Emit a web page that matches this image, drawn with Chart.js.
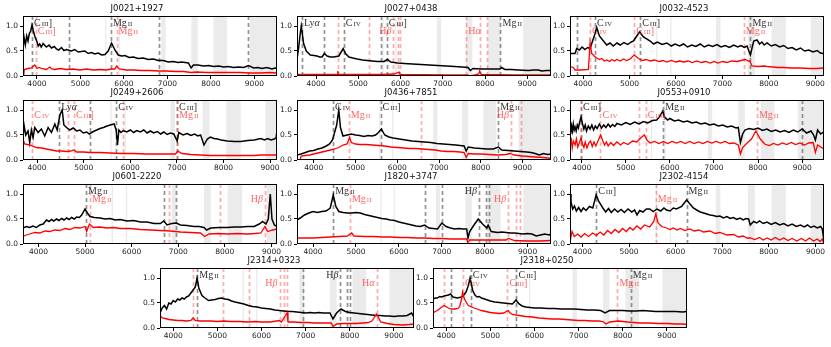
<!DOCTYPE html>
<html>
<head>
<meta charset="utf-8">
<script src="https://cdn.jsdelivr.net/npm/chart.js@4.4.1/dist/chart.umd.min.js"></script>
<style>
  body { margin: 0; background: #fff; }
  #fig { position: relative; width: 831px; height: 347px; overflow: hidden; background: #fff; }
  #fig canvas { position: absolute; }
</style>
</head>
<body>
<div id="fig"></div>
<script>
// shared axis ticks and telluric bands (observed wavelength, Angstrom)
const xTickValues = [4000, 5000, 6000, 7000, 8000, 9000];
const yTickValues = [0, 0.5, 1.0];
const telluricBands = [[5570, 5600], [5875, 5905], [6860, 6960], [7550, 7700], [8060, 8370], [8900, 9700]];

// ---- J0021+1927 ----
const j0021Black = [[3680,0.55],[3703,0.78],[3734,0.62],[3765,0.80],[3795,0.70],[3826,0.85],[3857,0.90],[3887,1.02],[3918,0.90],[3957,0.78],[4003,0.68],[4030,0.60],[4064,0.64],[4100,0.58],[4141,0.65],[4218,0.58],[4280,0.62],[4333,0.56],[4400,0.59],[4448,0.54],[4500,0.52],[4564,0.57],[4620,0.51],[4679,0.53],[4794,0.50],[4870,0.53],[4948,0.48],[5102,0.50],[5180,0.45],[5255,0.47],[5330,0.44],[5409,0.46],[5490,0.42],[5563,0.43],[5639,0.50],[5716,0.66],[5793,0.52],[5870,0.42],[5950,0.40],[6024,0.41],[6120,0.37],[6216,0.38],[6330,0.35],[6446,0.36],[6560,0.33],[6677,0.34],[6790,0.31],[6907,0.31],[7020,0.28],[7138,0.29],[7240,0.27],[7330,0.28],[7484,0.26],[7545,0.16],[7599,0.22],[7700,0.22],[7829,0.20],[7950,0.21],[8060,0.19],[8180,0.20],[8290,0.18],[8400,0.19],[8521,0.17],[8640,0.18],[8751,0.17],[8867,0.21],[8982,0.16],[9080,0.17],[9174,0.15],[9289,0.17],[9405,0.14],[9470,0.16],[9520,0.15]];
const j0021Red = [[3695,0.00],[3711,0.13],[3795,0.15],[3872,0.16],[3949,0.22],[4003,0.15],[4050,0.17],[4103,0.15],[4218,0.13],[4295,0.18],[4340,0.14],[4410,0.13],[4540,0.15],[4679,0.13],[4830,0.14],[4986,0.12],[5140,0.14],[5294,0.12],[5450,0.13],[5601,0.12],[5700,0.14],[5793,0.14],[5832,0.20],[5893,0.14],[6050,0.12],[6216,0.12],[6400,0.11],[6600,0.11],[6800,0.10],[6984,0.10],[7180,0.09],[7368,0.09],[7545,0.07],[7676,0.08],[7900,0.07],[8137,0.07],[8400,0.07],[8675,0.07],[8900,0.06],[9136,0.06],[9350,0.07],[9520,0.06]];
const j0021Gray = [3887, 4740, 5701, 6815, 8851];
const j0021RedLines = [3972, 5832];
const j0021Labels = [[3887,'CIII','g','l'],[3972,'CIII','r','l'],[5701,'MgII','g','l'],[5832,'MgII','r','l']];

// ---- J0027+0438 ----
const j0027Black = [[3548,0.32],[3587,0.55],[3627,0.85],[3651,1.00],[3675,0.85],[3706,0.65],[3770,0.50],[3865,0.42],[3950,0.41],[4024,0.40],[4090,0.38],[4143,0.38],[4198,0.45],[4262,0.40],[4340,0.38],[4421,0.38],[4480,0.39],[4540,0.40],[4595,0.48],[4643,0.55],[4698,0.45],[4778,0.38],[4870,0.36],[4976,0.34],[5100,0.32],[5214,0.31],[5330,0.30],[5452,0.29],[5611,0.29],[5690,0.33],[5770,0.28],[5930,0.26],[6087,0.25],[6280,0.24],[6484,0.23],[6680,0.22],[6881,0.21],[7080,0.20],[7278,0.19],[7450,0.18],[7595,0.17],[7651,0.11],[7714,0.15],[7913,0.14],[8151,0.14],[8349,0.14],[8389,0.17],[8468,0.13],[8620,0.13],[8786,0.12],[9024,0.11],[9150,0.12],[9262,0.12],[9341,0.10],[9450,0.11],[9563,0.11]];
const j0027Red = [[3548,0.03],[3944,0.03],[4500,0.03],[4516,0.10],[4532,0.03],[5532,0.03],[5849,0.04],[5968,0.08],[5992,0.03],[7119,0.02],[7595,0.02],[7635,0.00],[7754,0.02],[7849,0.04],[7873,0.10],[7913,0.03],[8706,0.02],[9563,0.02]];
const j0027Gray = [3667, 4198, 4659, 5548, 5675, 8365];
const j0027RedLines = [4516, 5254, 5833, 5929, 5984, 7556, 7873, 8056];
const j0027Labels = [[3667,'Lya','g','l'],[4659,'CIV','g','l'],[5675,'CIII','g','l'],[8365,'MgII','g','l'],[5833,'Hb','r','r'],[7556,'Ha','r','l']];

// ---- J0032-4523 ----
const j0032Black = [[3719,0.45],[3827,0.45],[3863,0.55],[3920,0.52],[3980,0.58],[4040,0.53],[4100,0.57],[4151,0.55],[4187,0.65],[4259,0.85],[4295,0.97],[4352,0.80],[4439,0.70],[4510,0.62],[4582,0.66],[4650,0.60],[4730,0.66],[4800,0.62],[4880,0.67],[4960,0.63],[5040,0.68],[5086,0.70],[5143,0.78],[5215,0.88],[5301,0.78],[5445,0.70],[5520,0.64],[5600,0.68],[5700,0.63],[5805,0.66],[5900,0.60],[5980,0.64],[6080,0.60],[6164,0.64],[6250,0.58],[6340,0.62],[6430,0.59],[6524,0.64],[6610,0.58],[6700,0.62],[6790,0.59],[6883,0.63],[6970,0.58],[7060,0.61],[7150,0.57],[7243,0.62],[7330,0.58],[7400,0.61],[7470,0.57],[7530,0.60],[7602,0.42],[7674,0.70],[7746,0.72],[7800,0.64],[7850,0.68],[7900,0.62],[7962,0.66],[8050,0.60],[8140,0.63],[8230,0.58],[8321,0.61],[8410,0.55],[8500,0.57],[8590,0.52],[8681,0.56],[8770,0.50],[8860,0.52],[8950,0.48],[9040,0.51],[9110,0.46],[9170,0.45]];
const j0032Red = [[3719,0.19],[3791,0.17],[3827,0.12],[3950,0.12],[4115,0.13],[4136,0.45],[4151,0.67],[4187,0.45],[4240,0.40],[4295,0.36],[4350,0.33],[4400,0.35],[4460,0.30],[4511,0.32],[4570,0.29],[4620,0.33],[4680,0.30],[4726,0.33],[4800,0.30],[4870,0.34],[4940,0.31],[5014,0.34],[5100,0.42],[5194,0.35],[5280,0.31],[5360,0.33],[5445,0.30],[5540,0.32],[5640,0.29],[5720,0.31],[5800,0.28],[5900,0.31],[6000,0.28],[6080,0.30],[6164,0.28],[6260,0.30],[6350,0.27],[6450,0.30],[6550,0.27],[6640,0.29],[6740,0.26],[6820,0.29],[6900,0.26],[7000,0.29],[7100,0.27],[7200,0.30],[7314,0.29],[7400,0.31],[7494,0.33],[7560,0.30],[7588,0.30],[7638,0.20],[7760,0.19],[7900,0.20],[7962,0.19],[8100,0.18],[8200,0.17],[8321,0.17],[8500,0.16],[8681,0.16],[8860,0.15],[9040,0.15],[9170,0.16]];
const j0032Gray = [3863, 4258, 5230, 7604];
const j0032RedLines = [4151, 5100, 7460];
const j0032Labels = [[4258,'CIV','g','l'],[4151,'CIV','r','l'],[5230,'CIII','g','l'],[5100,'CIII','r','l'],[7604,'MgII','g','l'],[7460,'MgII','r','l']];

// ---- J0249+2606 ----
const j0249Black = [[3698,0.45],[3720,0.70],[3756,0.50],[3806,0.58],[3842,0.35],[3878,0.60],[3914,0.45],[3950,0.65],[4022,0.55],[4093,0.62],[4165,0.48],[4237,0.65],[4309,0.55],[4381,0.72],[4431,0.60],[4489,0.90],[4539,1.00],[4575,0.70],[4633,0.65],[4700,0.60],[4777,0.64],[4850,0.58],[4920,0.60],[4990,0.54],[5064,0.56],[5120,0.52],[5172,0.55],[5230,0.58],[5280,0.60],[5350,0.63],[5424,0.65],[5500,0.68],[5568,0.70],[5654,0.72],[5697,0.60],[5726,0.30],[5755,0.60],[5800,0.55],[5850,0.59],[5927,0.56],[6000,0.60],[6070,0.55],[6140,0.59],[6215,0.56],[6290,0.60],[6360,0.54],[6430,0.58],[6502,0.54],[6580,0.57],[6650,0.52],[6720,0.56],[6790,0.51],[6860,0.54],[6934,0.52],[7005,0.38],[7041,0.55],[7130,0.50],[7221,0.53],[7300,0.49],[7380,0.52],[7450,0.48],[7509,0.50],[7581,0.30],[7653,0.42],[7720,0.46],[7796,0.43],[7870,0.42],[7950,0.40],[8084,0.38],[8230,0.37],[8372,0.37],[8520,0.39],[8659,0.40],[8800,0.43],[8880,0.40],[8947,0.43],[9020,0.40],[9091,0.42],[9130,0.45],[9148,0.60]];
const j0249Red = [[3698,0.42],[3734,0.32],[3842,0.30],[3986,0.25],[4100,0.24],[4201,0.22],[4310,0.20],[4417,0.18],[4520,0.18],[4633,0.17],[4720,0.18],[4791,0.20],[4848,0.16],[5000,0.16],[5136,0.15],[5350,0.15],[5568,0.14],[5800,0.13],[6071,0.13],[6350,0.12],[6646,0.12],[6969,0.12],[7019,0.18],[7113,0.13],[7300,0.11],[7509,0.10],[7700,0.09],[7868,0.09],[8050,0.09],[8228,0.09],[8450,0.09],[8659,0.09],[8800,0.10],[8947,0.10],[9148,0.10]];
const j0249Gray = [4475, 5136, 5697, 7005];
const j0249RedLines = [3899, 4669, 4791, 5841, 7005];
const j0249Labels = [[4475,'Lya','g','l'],[3899,'CIV','r','l'],[4791,'CIII','r','l'],[5697,'CIV','g','l'],[7005,'CIII','g','l'],[7005,'MgII','r','l']];

// ---- J0436+7851 ----
const j0436Black = [[3600,0.10],[3700,0.12],[3800,0.15],[3900,0.18],[4000,0.19],[4100,0.22],[4200,0.24],[4300,0.28],[4380,0.32],[4450,0.40],[4550,0.70],[4600,1.00],[4640,0.65],[4700,0.48],[4800,0.50],[4900,0.52],[5000,0.50],[5100,0.49],[5200,0.47],[5300,0.49],[5400,0.48],[5480,0.50],[5550,0.55],[5620,0.62],[5700,0.50],[5800,0.46],[5900,0.44],[6050,0.42],[6200,0.40],[6350,0.38],[6500,0.37],[6650,0.36],[6800,0.35],[6950,0.33],[7100,0.32],[7250,0.31],[7400,0.30],[7600,0.28],[7650,0.18],[7700,0.26],[7850,0.24],[8000,0.23],[8150,0.22],[8300,0.22],[8420,0.26],[8500,0.20],[8650,0.19],[8800,0.18],[8950,0.17],[9100,0.16],[9200,0.15],[9300,0.13],[9400,0.10],[9500,0.13],[9600,0.11],[9680,0.12]];
const j0436Red = [[3680,0.02],[3700,0.08],[3800,0.09],[3900,0.10],[4000,0.12],[4100,0.14],[4200,0.16],[4300,0.18],[4400,0.20],[4500,0.22],[4600,0.25],[4700,0.30],[4800,0.32],[4860,0.45],[4900,0.35],[5000,0.32],[5100,0.31],[5250,0.31],[5400,0.30],[5550,0.29],[5700,0.28],[5850,0.26],[6000,0.25],[6150,0.24],[6300,0.23],[6450,0.23],[6600,0.22],[6750,0.21],[6900,0.20],[7050,0.18],[7200,0.17],[7350,0.17],[7500,0.16],[7600,0.15],[7650,0.05],[7700,0.13],[7850,0.12],[8000,0.12],[8200,0.11],[8400,0.10],[8600,0.11],[8700,0.13],[8800,0.10],[9000,0.08],[9150,0.07],[9300,0.06],[9500,0.05],[9680,0.03]];
const j0436Gray = [4464, 5600, 8416];
const j0436RedLines = [4840, 6560, 8720, 8960];
const j0436Labels = [[4464,'CIV','g','l'],[5600,'CIII','g','l'],[8416,'MgII','g','l'],[4840,'MgII','r','l'],[8720,'Hb','r','r']];

// ---- J0553+0910 ----
const j0553Black = [[3735,0.65],[3750,0.52],[3770,0.68],[3790,0.58],[3810,0.72],[3830,0.60],[3850,0.66],[3875,0.58],[3900,0.70],[3925,0.64],[3950,0.74],[3985,0.86],[4020,0.72],[4050,0.62],[4080,0.70],[4110,0.58],[4150,0.68],[4190,0.62],[4230,0.70],[4270,0.60],[4310,0.68],[4350,0.63],[4400,0.72],[4450,0.64],[4500,0.70],[4550,0.65],[4600,0.72],[4650,0.66],[4700,0.71],[4750,0.67],[4800,0.73],[4900,0.70],[5000,0.75],[5100,0.71],[5200,0.76],[5300,0.72],[5400,0.77],[5500,0.74],[5600,0.79],[5700,0.80],[5760,0.86],[5840,0.98],[5880,0.86],[5950,0.80],[6000,0.83],[6100,0.78],[6200,0.80],[6300,0.76],[6400,0.78],[6500,0.74],[6600,0.76],[6700,0.72],[6800,0.74],[6900,0.70],[7000,0.72],[7100,0.68],[7200,0.70],[7300,0.66],[7400,0.68],[7500,0.64],[7550,0.65],[7600,0.35],[7650,0.52],[7700,0.60],[7800,0.63],[7900,0.61],[8000,0.64],[8100,0.59],[8200,0.62],[8300,0.57],[8400,0.60],[8500,0.56],[8600,0.59],[8700,0.55],[8800,0.60],[8900,0.56],[9000,0.62],[9100,0.54],[9200,0.58],[9260,0.50],[9300,0.40],[9350,0.60],[9420,0.52],[9495,0.57]];
const j0553Red = [[3735,0.20],[3760,0.45],[3785,0.24],[3810,0.38],[3850,0.30],[3880,0.42],[3910,0.26],[3950,0.35],[3985,0.44],[4020,0.32],[4050,0.25],[4080,0.36],[4120,0.24],[4160,0.34],[4200,0.38],[4240,0.27],[4280,0.36],[4320,0.28],[4370,0.38],[4430,0.50],[4480,0.38],[4520,0.30],[4560,0.36],[4600,0.28],[4660,0.35],[4720,0.29],[4800,0.36],[4880,0.30],[4950,0.35],[5050,0.31],[5150,0.38],[5250,0.36],[5350,0.45],[5420,0.50],[5480,0.40],[5550,0.34],[5650,0.37],[5750,0.33],[5850,0.37],[5950,0.33],[6050,0.37],[6150,0.34],[6250,0.37],[6350,0.33],[6450,0.37],[6550,0.33],[6650,0.36],[6750,0.33],[6850,0.37],[6950,0.34],[7050,0.37],[7150,0.34],[7250,0.37],[7350,0.33],[7450,0.34],[7550,0.30],[7600,0.12],[7650,0.25],[7750,0.34],[7850,0.42],[7950,0.58],[8050,0.42],[8150,0.32],[8250,0.29],[8350,0.33],[8450,0.30],[8550,0.34],[8650,0.31],[8750,0.35],[8850,0.31],[8950,0.34],[9050,0.30],[9150,0.34],[9250,0.35],[9300,0.15],[9350,0.30],[9420,0.26],[9495,0.22]];
const j0553Gray = [3985, 5847, 9000];
const j0553RedLines = [3985, 4425, 5300, 5451, 7974];
const j0553Labels = [[3985,'CIII','g','l'],[5847,'MgII','g','l'],[4425,'CIV','r','l'],[5451,'CIII','r','l'],[7974,'MgII','r','l']];

// ---- J0601-2220 ----
const j0601Black = [[3669,0.32],[3740,0.35],[3813,0.33],[3880,0.36],[3957,0.33],[4029,0.38],[4101,0.40],[4173,0.48],[4230,0.45],[4280,0.49],[4330,0.46],[4388,0.50],[4440,0.47],[4500,0.51],[4550,0.48],[4604,0.52],[4660,0.49],[4710,0.53],[4770,0.50],[4820,0.54],[4880,0.53],[4928,0.58],[5000,0.70],[5050,0.62],[5107,0.55],[5200,0.53],[5323,0.52],[5430,0.50],[5539,0.51],[5650,0.48],[5754,0.49],[5900,0.46],[6042,0.47],[6190,0.44],[6330,0.44],[6480,0.41],[6617,0.41],[6689,0.46],[6761,0.38],[6860,0.41],[6955,0.42],[7049,0.38],[7190,0.37],[7336,0.35],[7450,0.35],[7552,0.33],[7609,0.28],[7696,0.32],[7880,0.33],[8055,0.33],[8200,0.34],[8343,0.34],[8490,0.35],[8630,0.35],[8738,0.40],[8810,0.45],[8882,0.40],[8932,0.50],[8975,1.00],[9011,0.50],[9062,0.38],[9119,0.35]];
const j0601Red = [[3669,0.15],[3740,0.18],[3813,0.20],[3920,0.23],[4029,0.22],[4140,0.26],[4244,0.25],[4350,0.28],[4460,0.27],[4570,0.31],[4676,0.29],[4780,0.33],[4892,0.32],[5000,0.35],[5036,0.25],[5093,0.40],[5179,0.33],[5320,0.34],[5467,0.32],[5610,0.33],[5754,0.31],[5970,0.31],[6186,0.29],[6400,0.28],[6617,0.27],[6830,0.26],[7049,0.24],[7260,0.23],[7480,0.22],[7566,0.15],[7660,0.20],[7860,0.21],[8055,0.20],[8270,0.21],[8487,0.20],[8650,0.21],[8774,0.22],[8860,0.35],[8918,0.25],[9026,0.28],[9119,0.30]];
const j0601Gray = [5021, 6689, 6955];
const j0601RedLines = [5107, 6797, 7897, 8860];
const j0601Labels = [[5021,'MgII','g','l'],[5107,'MgII','r','l'],[8860,'Hb','r','r']];

// ---- J1820+3747 ----
const j1820Black = [[3625,0.48],[3700,0.52],[3800,0.58],[3900,0.62],[4000,0.65],[4100,0.63],[4200,0.65],[4300,0.66],[4400,0.72],[4470,0.98],[4530,0.75],[4600,0.65],[4700,0.63],[4800,0.62],[4900,0.62],[5000,0.63],[5100,0.62],[5200,0.59],[5300,0.57],[5400,0.55],[5500,0.53],[5600,0.51],[5700,0.50],[5800,0.48],[5900,0.47],[6000,0.44],[6100,0.42],[6200,0.40],[6300,0.38],[6400,0.36],[6500,0.35],[6600,0.38],[6700,0.32],[6800,0.31],[6900,0.30],[7000,0.42],[7100,0.35],[7200,0.32],[7300,0.30],[7400,0.31],[7500,0.30],[7580,0.30],[7610,0.12],[7650,0.25],[7750,0.38],[7850,0.50],[7950,0.40],[8050,0.32],[8080,0.38],[8150,0.25],[8300,0.23],[8400,0.24],[8500,0.23],[8600,0.22],[8700,0.22],[8800,0.21],[8900,0.20],[9000,0.21],[9100,0.20],[9200,0.16],[9300,0.18],[9400,0.20],[9500,0.18],[9545,0.20]];
const j1820Red = [[3625,0.12],[3800,0.12],[4000,0.12],[4200,0.13],[4400,0.14],[4600,0.15],[4800,0.16],[4900,0.22],[4950,0.16],[5200,0.15],[5400,0.15],[5600,0.14],[5800,0.14],[6000,0.13],[6200,0.13],[6400,0.12],[6600,0.12],[6800,0.11],[7000,0.11],[7200,0.10],[7400,0.10],[7580,0.10],[7610,0.03],[7650,0.08],[8000,0.08],[8300,0.08],[8500,0.08],[8550,0.11],[8700,0.07],[9000,0.06],[9300,0.06],[9545,0.07]];
const j1820Gray = [4469, 6609, 7008, 7867, 8023, 8102];
const j1820RedLines = [4859, 8547, 8727, 8820];
const j1820Labels = [[4469,'MgII','g','l'],[7867,'Hb','g','r'],[4859,'MgII','r','l'],[8547,'Hb','r','r']];

// ---- J2302-4154 ----
const j2302Black = [[3734,1.00],[3755,0.84],[3791,0.70],[3830,0.76],[3870,0.66],[3920,0.73],[3970,0.65],[4020,0.72],[4080,0.67],[4150,0.75],[4223,0.72],[4259,0.85],[4295,0.98],[4352,0.85],[4439,0.72],[4500,0.64],[4560,0.71],[4620,0.63],[4690,0.70],[4760,0.64],[4830,0.69],[4900,0.63],[4980,0.70],[5060,0.64],[5120,0.68],[5172,0.58],[5230,0.67],[5300,0.64],[5370,0.70],[5445,0.70],[5520,0.65],[5600,0.70],[5680,0.66],[5750,0.72],[5805,0.68],[5880,0.66],[5950,0.72],[6020,0.70],[6128,0.75],[6236,0.88],[6308,0.80],[6380,0.72],[6452,0.68],[6530,0.64],[6600,0.62],[6670,0.60],[6739,0.58],[6810,0.57],[6880,0.55],[6950,0.56],[7027,0.52],[7100,0.55],[7170,0.51],[7240,0.53],[7314,0.49],[7380,0.52],[7450,0.48],[7510,0.51],[7566,0.50],[7602,0.38],[7674,0.45],[7740,0.42],[7800,0.46],[7880,0.41],[7962,0.44],[8050,0.39],[8140,0.43],[8230,0.38],[8321,0.41],[8410,0.36],[8500,0.40],[8590,0.35],[8681,0.38],[8760,0.34],[8830,0.38],[8900,0.33],[8968,0.36],[9040,0.32],[9112,0.35],[9148,0.30],[9184,0.05]];
const j2302Red = [[3734,0.05],[3777,0.25],[3827,0.15],[3900,0.20],[3970,0.14],[4050,0.21],[4130,0.15],[4220,0.22],[4300,0.17],[4380,0.24],[4460,0.18],[4540,0.27],[4620,0.21],[4700,0.29],[4780,0.23],[4860,0.31],[4940,0.25],[5020,0.33],[5086,0.28],[5170,0.36],[5250,0.30],[5330,0.38],[5445,0.34],[5531,0.45],[5575,0.60],[5625,0.42],[5700,0.35],[5805,0.32],[5880,0.29],[5950,0.32],[6030,0.28],[6100,0.31],[6200,0.27],[6308,0.30],[6400,0.26],[6500,0.28],[6600,0.24],[6739,0.26],[6850,0.21],[6950,0.23],[7100,0.18],[7243,0.19],[7350,0.14],[7450,0.16],[7530,0.12],[7602,0.12],[7700,0.09],[7800,0.13],[7880,0.08],[7962,0.12],[8050,0.08],[8140,0.13],[8230,0.08],[8321,0.12],[8410,0.07],[8500,0.11],[8600,0.06],[8700,0.11],[8790,0.06],[8870,0.12],[8960,0.06],[9040,0.10],[9100,0.05],[9148,0.10],[9184,0.00]];
const j2302Gray = [4295, 6236];
const j2302RedLines = [5575];
const j2302Labels = [[4295,'CIII','g','l'],[6236,'MgII','g','l'],[5575,'MgII','r','l']];

// ---- J2314+0323 ----
const j2314Black = [[3700,0.30],[3750,0.40],[3800,0.45],[3850,0.38],[3900,0.50],[3950,0.48],[4000,0.55],[4050,0.52],[4100,0.58],[4150,0.56],[4200,0.60],[4250,0.58],[4300,0.62],[4350,0.64],[4400,0.70],[4500,0.82],[4540,1.00],[4580,0.80],[4650,0.65],[4720,0.60],[4800,0.55],[4870,0.56],[4950,0.57],[5020,0.59],[5100,0.60],[5170,0.58],[5250,0.57],[5320,0.54],[5400,0.52],[5500,0.50],[5600,0.48],[5700,0.45],[5800,0.43],[5900,0.42],[6000,0.40],[6100,0.39],[6200,0.38],[6300,0.36],[6400,0.35],[6500,0.34],[6600,0.33],[6700,0.33],[6800,0.32],[6900,0.31],[7000,0.30],[7100,0.31],[7200,0.30],[7300,0.31],[7400,0.30],[7550,0.30],[7620,0.18],[7700,0.30],[7800,0.38],[7900,0.33],[8000,0.31],[8100,0.30],[8200,0.29],[8300,0.28],[8400,0.27],[8500,0.26],[8600,0.25],[8700,0.25],[8800,0.24],[8900,0.24],[9000,0.23],[9100,0.24],[9200,0.24],[9300,0.25],[9400,0.30],[9455,0.22]];
const j2314Red = [[3700,0.25],[3750,0.20],[3820,0.19],[3900,0.17],[4000,0.16],[4100,0.15],[4200,0.15],[4300,0.14],[4400,0.15],[4450,0.20],[4500,0.15],[4600,0.14],[4700,0.14],[4850,0.14],[5000,0.13],[5150,0.14],[5300,0.13],[5500,0.13],[5700,0.12],[5850,0.13],[6000,0.12],[6200,0.12],[6400,0.15],[6450,0.12],[6580,0.30],[6600,0.12],[6750,0.12],[6900,0.11],[7050,0.11],[7200,0.10],[7400,0.10],[7580,0.10],[7620,0.03],[7700,0.08],[7850,0.09],[8000,0.09],[8150,0.09],[8300,0.10],[8420,0.11],[8500,0.14],[8610,0.28],[8700,0.12],[8850,0.09],[9000,0.07],[9200,0.06],[9350,0.07],[9455,0.08]];
const j2314Gray = [4545, 6939, 7788, 7939, 8015];
const j2314RedLines = [4439, 5121, 5727, 6409, 6515, 6576, 8606];
const j2314Labels = [[4545,'MgII','g','l'],[7788,'Hb','g','r'],[6409,'Hb','r','r'],[8606,'Ha','r','r']];

// ---- J2318+0250 ----
const j2318Black = [[3700,0.58],[3750,0.60],[3800,0.60],[3850,0.63],[3900,0.62],[3950,0.64],[4000,0.65],[4050,0.66],[4100,0.68],[4150,0.62],[4200,0.61],[4250,0.60],[4300,0.61],[4350,0.62],[4400,0.66],[4450,0.72],[4500,0.85],[4540,1.00],[4600,0.75],[4650,0.66],[4700,0.62],[4750,0.63],[4800,0.60],[4900,0.57],[5000,0.54],[5100,0.52],[5200,0.51],[5300,0.50],[5400,0.49],[5500,0.48],[5580,0.56],[5650,0.48],[5720,0.44],[5800,0.42],[5900,0.41],[6000,0.40],[6150,0.40],[6300,0.39],[6450,0.39],[6600,0.38],[6750,0.38],[6900,0.38],[7050,0.37],[7200,0.36],[7350,0.36],[7500,0.35],[7600,0.30],[7700,0.35],[7850,0.35],[8000,0.35],[8150,0.34],[8300,0.34],[8450,0.35],[8600,0.34],[8750,0.33],[8900,0.33],[9050,0.33],[9200,0.33],[9350,0.32],[9455,0.33]];
const j2318Red = [[3700,0.30],[3750,0.33],[3800,0.35],[3870,0.40],[3950,0.45],[4050,0.40],[4120,0.38],[4200,0.38],[4260,0.39],[4300,0.42],[4340,0.55],[4370,0.72],[4400,0.62],[4430,0.55],[4500,0.45],[4600,0.41],[4700,0.38],[4800,0.35],[4900,0.33],[5000,0.31],[5100,0.30],[5200,0.29],[5300,0.30],[5400,0.35],[5450,0.30],[5500,0.27],[5650,0.25],[5800,0.23],[5950,0.22],[6100,0.20],[6250,0.19],[6400,0.18],[6550,0.18],[6700,0.17],[6850,0.16],[7000,0.15],[7150,0.15],[7300,0.14],[7450,0.14],[7550,0.13],[7620,0.08],[7700,0.12],[7800,0.13],[7900,0.14],[8000,0.13],[8100,0.12],[8250,0.11],[8400,0.10],[8600,0.10],[8800,0.09],[9000,0.09],[9200,0.08],[9350,0.08],[9455,0.07]];
const j2318Gray = [4114, 4553, 5591, 8182];
const j2318RedLines = [3947, 4379, 5386, 7879];
const j2318Labels = [[4553,'CIV','g','l'],[5591,'CIII','g','l'],[8182,'MgII','g','l'],[4379,'CIV','r','l'],[5386,'CIII','r','l'],[7879,'MgII','r','l']];

const panels = [
  { title: 'J0021+1927', xMin: 3680, xMax: 9520, black: j0021Black, red: j0021Red, gray: j0021Gray, redLines: j0021RedLines, labels: j0021Labels },
  { title: 'J0027+0438', xMin: 3550, xMax: 9560, black: j0027Black, red: j0027Red, gray: j0027Gray, redLines: j0027RedLines, labels: j0027Labels },
  { title: 'J0032-4523', xMin: 3719, xMax: 9187, black: j0032Black, red: j0032Red, gray: j0032Gray, redLines: j0032RedLines, labels: j0032Labels },
  { title: 'J0249+2606', xMin: 3698, xMax: 9148, black: j0249Black, red: j0249Red, gray: j0249Gray, redLines: j0249RedLines, labels: j0249Labels },
  { title: 'J0436+7851', xMin: 3600, xMax: 9680, black: j0436Black, red: j0436Red, gray: j0436Gray, redLines: j0436RedLines, labels: j0436Labels },
  { title: 'J0553+0910', xMin: 3735, xMax: 9495, black: j0553Black, red: j0553Red, gray: j0553Gray, redLines: j0553RedLines, labels: j0553Labels },
  { title: 'J0601-2220', xMin: 3669, xMax: 9119, black: j0601Black, red: j0601Red, gray: j0601Gray, redLines: j0601RedLines, labels: j0601Labels },
  { title: 'J1820+3747', xMin: 3625, xMax: 9545, black: j1820Black, red: j1820Red, gray: j1820Gray, redLines: j1820RedLines, labels: j1820Labels },
  { title: 'J2302-4154', xMin: 3734, xMax: 9184, black: j2302Black, red: j2302Red, gray: j2302Gray, redLines: j2302RedLines, labels: j2302Labels },
  { title: 'J2314+0323', xMin: 3700, xMax: 9455, black: j2314Black, red: j2314Red, gray: j2314Gray, redLines: j2314RedLines, labels: j2314Labels },
  { title: 'J2318+0250', xMin: 3700, xMax: 9455, black: j2318Black, red: j2318Red, gray: j2318Gray, redLines: j2318RedLines, labels: j2318Labels },
];

// plot-area top-left corner of each panel, in page pixels
const panelPos = [[23,16],[297,16],[570,16],[23,100],[297,100],[570,100],[23,184],[297,184],[570,184],[160,268],[433,268]];
const PLOT_W = 254, PLOT_H = 60;
const Y_AXIS_W = 26, TITLE_H = 14, X_AXIS_H = 14, PAD_R = 6;

const SANS = "'DejaVu Sans', sans-serif";
const SERIF = "'Liberation Serif', 'DejaVu Serif', serif";

// line-name glyphs: [text, style] where s = small ion numeral, i = italic greek
const ionParts = {
  CIV: [['C', ''], ['IV', 's']],
  CIII: [['C', ''], ['III', 's'], [']', '']],
  MgII: [['Mg', ''], ['II', 's']],
  Hb: [['H', ''], ['β', 'i']],
  Ha: [['H', ''], ['α', 'i']],
  Lya: [['Ly', ''], ['α', 'i']],
};

function partFont(style) {
  if (style === 's') return `7px ${SERIF}`;
  if (style === 'i') return `italic 10px ${SERIF}`;
  return `10px ${SERIF}`;
}

function drawLineName(ctx, key, px, baseline, align, color) {
  const parts = ionParts[key];
  let total = 0;
  parts.forEach(([t, s]) => {
    ctx.font = partFont(s);
    total += ctx.measureText(t).width + (s === 's' ? 1 : 0);
  });
  let cx = align === 'r' ? px - 2 - total : px + 2;
  ctx.fillStyle = color;
  ctx.textBaseline = 'alphabetic';
  ctx.textAlign = 'left';
  parts.forEach(([t, s]) => {
    ctx.font = partFont(s);
    if (s === 's') cx += 1;
    ctx.fillText(t, cx, baseline);
    cx += ctx.measureText(t).width;
  });
}

const spectrumDecor = {
  id: 'spectrumDecor',
  beforeDatasetsDraw(chart, args, opts) {
    const { ctx, chartArea: a } = chart;
    const x = chart.scales.x;
    ctx.save();
    ctx.beginPath();
    ctx.rect(a.left, a.top, a.right - a.left, a.bottom - a.top);
    ctx.clip();
    ctx.fillStyle = '#ebebeb';
    telluricBands.forEach(([w0, w1]) => {
      const p0 = x.getPixelForValue(w0), p1 = x.getPixelForValue(w1);
      ctx.fillRect(p0, a.top, p1 - p0, a.bottom - a.top);
    });
    ctx.lineWidth = 1.7;
    ctx.setLineDash([4, 3]);
    const vline = (w, color) => {
      const px = Math.round(x.getPixelForValue(w)) + 0.5;
      ctx.strokeStyle = color;
      ctx.beginPath();
      ctx.moveTo(px, a.top);
      ctx.lineTo(px, a.bottom);
      ctx.stroke();
    };
    opts.gray.forEach(w => vline(w, 'rgba(110,110,110,0.75)'));
    opts.red.forEach(w => vline(w, 'rgba(255,90,90,0.5)'));
    ctx.restore();
  },
  afterDatasetsDraw(chart, args, opts) {
    const { ctx, chartArea: a } = chart;
    const x = chart.scales.x;
    ctx.save();
    opts.labels.forEach(([w, key, kind, align]) => {
      const px = x.getPixelForValue(w);
      if (kind === 'g') drawLineName(ctx, key, px, a.top + 10, align, '#333');
      else drawLineName(ctx, key, px, a.top + 18, align, 'rgba(255,60,60,0.8)');
    });
    ctx.strokeStyle = '#000';
    ctx.lineWidth = 1;
    ctx.setLineDash([]);
    ctx.strokeRect(Math.round(a.left) + 0.5, Math.round(a.top) + 0.5, Math.round(a.right - a.left) - 1, Math.round(a.bottom - a.top) - 1);
    ctx.restore();
  }
};

const toXY = arr => arr.map(([w, f]) => ({ x: w, y: f }));
const fig = document.getElementById('fig');

panels.forEach((p, i) => {
  const [L, T] = panelPos[i];
  const canvas = document.createElement('canvas');
  const cw = PLOT_W + Y_AXIS_W + PAD_R, ch = PLOT_H + TITLE_H + X_AXIS_H;
  canvas.width = cw;
  canvas.height = ch;
  canvas.style.left = (L - Y_AXIS_W) + 'px';
  canvas.style.top = (T - TITLE_H) + 'px';
  canvas.style.width = cw + 'px';
  canvas.style.height = ch + 'px';
  fig.appendChild(canvas);

  const tickFont = { family: SANS, size: 7.5 };
  new Chart(canvas, {
    type: 'line',
    data: {
      datasets: [
        { data: toXY(p.red), borderColor: '#ff0000', borderWidth: 1.3, pointRadius: 0, tension: 0 },
        { data: toXY(p.black), borderColor: '#000000', borderWidth: 1.5, pointRadius: 0, tension: 0 },
      ]
    },
    options: {
      responsive: false,
      animation: false,
      devicePixelRatio: 1,
      events: [],
      layout: { padding: { left: 0, right: PAD_R, top: 0, bottom: 0 } },
      plugins: {
        legend: { display: false },
        tooltip: { enabled: false },
        title: {
          display: true, text: p.title, color: '#111',
          font: { family: SANS, size: 8.5, weight: 'normal', lineHeight: 1.2 },
          padding: { top: 2, bottom: 1.8 }
        },
        spectrumDecor: { gray: p.gray, red: p.redLines, labels: p.labels }
      },
      scales: {
        x: {
          type: 'linear', min: p.xMin, max: p.xMax,
          afterBuildTicks: s => { s.ticks = xTickValues.filter(v => v >= s.min && v <= s.max).map(v => ({ value: v })); },
          afterFit: s => { s.height = X_AXIS_H; },
          ticks: { callback: v => String(v), font: tickFont, color: '#222', padding: 1, maxRotation: 0, autoSkip: false },
          grid: { drawOnChartArea: false, drawTicks: true, tickLength: 3, color: '#000' },
          border: { display: false }
        },
        y: {
          min: 0, max: 1.2,
          afterBuildTicks: s => { s.ticks = yTickValues.map(v => ({ value: v })); },
          afterFit: s => { s.width = Y_AXIS_W; },
          ticks: { callback: v => v.toFixed(1), font: tickFont, color: '#222', padding: 2 },
          grid: { drawOnChartArea: false, drawTicks: true, tickLength: 3, color: '#000' },
          border: { display: false }
        }
      }
    },
    plugins: [spectrumDecor]
  });
});
</script>
</body>
</html>
